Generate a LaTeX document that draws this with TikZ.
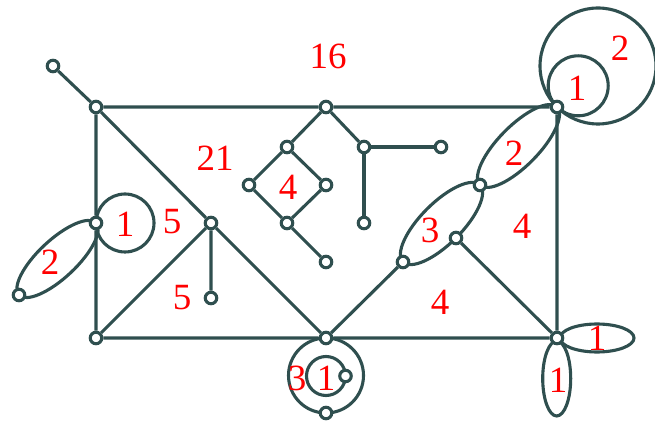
\documentclass[tikz,border=0pt]{standalone}
\usepackage{fontspec}
\setmainfont{Liberation Serif}
\pgfdeclarelayer{bg}
\pgfsetlayers{bg,main}
\definecolor{edgec}{HTML}{2F4F4F}
\tikzset{
  vtx/.style={circle, draw=edgec, fill=white, line width=3.1pt, minimum size=11.5pt, inner sep=0pt},
  lnk/.style={draw=edgec, line width=3.1pt},
  lbl/.style={text=red, font=\fontsize{37}{37}\selectfont, inner sep=0pt}
}
\begin{document}
\begin{tikzpicture}[x=1pt, y=1pt]
\useasboundingbox (0,0) rectangle (655,428);
% vertices
\node[vtx] (pend) at (53,362) {};
\node[vtx] (tl) at (96,321) {};
\node[vtx] (tm) at (326,321) {};
\node[vtx] (tr) at (557,321) {};
\node[vtx] (bl) at (96,90) {};
\node[vtx] (bm) at (326,90) {};
\node[vtx] (br) at (557,90) {};
\node[vtx] (lm) at (96,205) {};
\node[vtx] (lf) at (19,133) {};
\node[vtx] (dv) at (211,205) {};
\node[vtx] (dvp) at (211,130) {};
\node[vtx] (d1) at (287,281) {};
\node[vtx] (d2) at (249,243) {};
\node[vtx] (d3) at (326,243) {};
\node[vtx] (d4) at (287,205) {};
\node[vtx] (d5) at (326,166) {};
\node[vtx] (e1) at (364,281) {};
\node[vtx] (e2) at (441,281) {};
\node[vtx] (e3) at (364,205) {};
\node[vtx] (f1) at (403,166) {};
\node[vtx] (f2) at (456,190) {};
\node[vtx] (f3) at (480,243) {};
\node[vtx] (bi) at (345.5,52) {};
\node[vtx] (bb) at (326,15) {};

\begin{pgfonlayer}{bg}
% straight edges
\path[lnk] (pend) -- (tl) -- (tm) -- (tr) -- (br) -- (bm) -- (bl) -- (lm) -- (tl);
\path[lnk] (tl) -- (dv) -- (bm);
\path[lnk] (bl) -- (dv) -- (dvp);
\path[lnk] (bm) -- (f1);
\path[lnk] (f2) -- (br);
\path[lnk] (tm) -- (d1);
\path[lnk] (tm) -- (e1);
\path[lnk] (d1) -- (d2) -- (d4) -- (d3) -- (d1);
\path[lnk] (d4) -- (d5);
\path[lnk] (e1) -- (e2);
\path[lnk] (e1) -- (e3);
% loops and double edges
\path[lnk] (578.2,342.2) circle [radius=30];
\path[lnk] (598,362) circle [radius=58];
\path[lnk] (125,205) circle [radius=29];
\path[lnk] (326,52.5) circle [radius=37.5];
\path[lnk] (326,52) circle [radius=19.5];
\path[lnk, rotate around={43.1:(57.5,169)}] (57.5,169) ellipse [x radius=52.7, y radius=19];
\path[lnk, rotate around={45.4:(518.5,282)}] (518.5,282) ellipse [x radius=54.8, y radius=20];
\path[lnk, rotate around={45:(441.5,204.5)}] (441.5,204.5) ellipse [x radius=54.4, y radius=20.5];
\path[lnk] (597,90) ellipse [x radius=37, y radius=14];
\path[lnk] (556.7,49.5) ellipse [x radius=14, y radius=37.5];
\end{pgfonlayer}

% face labels
\node[lbl] (l16) at (328,372) {16};
\node[lbl] (la) at (620,380) {2};
\node[lbl] (lb) at (577,340) {1};
\node[lbl] (lc) at (514,275) {2};
\node[lbl] (ld) at (215,270) {21};
\node[lbl] (le) at (288,241) {4};
\node[lbl] (lg) at (125,204) {1};
\node[lbl] (lh) at (172,206) {5};
\node[lbl] (li) at (50,166) {2};
\node[lbl] (lj) at (430,198) {3};
\node[lbl] (lk) at (522,202) {4};
\node[lbl] (ll) at (182,130) {5};
\node[lbl] (lm2) at (440,126) {4};
\node[lbl] (ln) at (597,90) {1};
\node[lbl] (lo) at (558,48) {1};
\node[lbl] (lp) at (297,50) {3};
\node[lbl] (lq) at (326,50) {1};
\end{tikzpicture}
\end{document}
